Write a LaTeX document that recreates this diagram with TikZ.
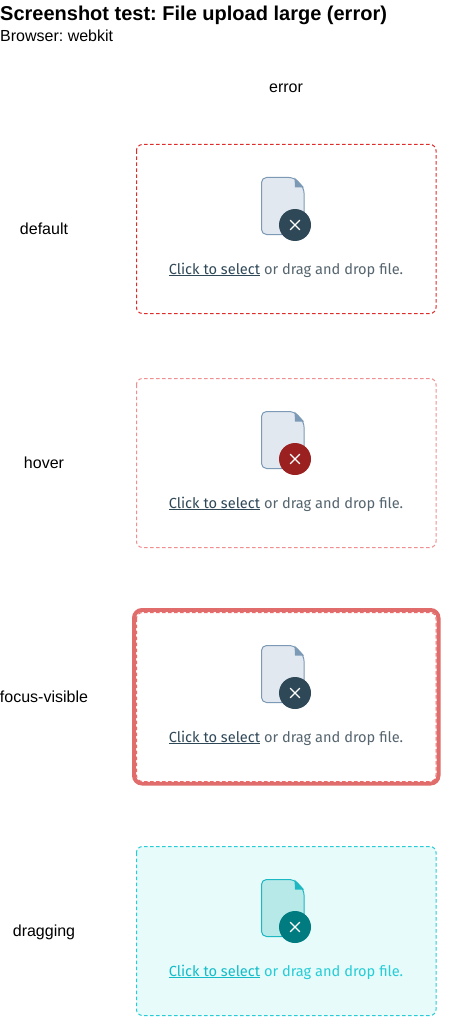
\documentclass[tikz,border=0pt]{standalone}
\usepackage{fontspec}
\setmainfont{Liberation Sans}
\newfontfamily\uifont{Fira Sans}
\frenchspacing
\tikzset{
  x=1pt,y=-1pt,
  caption/.style={inner sep=0pt,font=\fontsize{16}{18}\selectfont,text=black},
  msg/.style={inner sep=0pt,font=\uifont\fontsize{14.6}{17}\selectfont},
}
\newcommand{\linkcol}{black}
\newcommand{\uploadbox}[9]{%
 % #1 name, #2 y offset, #3 border colour, #4 fill, #5 sheet fill, #6 sheet line, #7 fold, #8 badge, #9 text colour
 \begin{scope}[yshift=-#2 pt]
  \fill[#4,rounded corners=6] (136.5,144.5) rectangle (436,313.5);
  \draw[#3,line width=1,dash pattern=on 3.5pt off 2.5pt,rounded corners=6] (136.5,144.5) rectangle (436,313.5);
  \draw[#6,fill=#5,line width=1,rounded corners=5] (261.5,177.5) -- (294,177.5) -- (304,188) -- (304,234.5) -- (261.5,234.5) -- cycle;
  \fill[#7] (294.5,177.5) -- (304,187.5) -- (295,187.5) -- cycle;
  \node[circle,fill=#8,minimum size=32,inner sep=0pt] (#1badge) at (295,225) {};
  \draw[white,line width=1.3,line cap=round] (290.3,220.3) -- (299.7,229.7) (299.7,220.3) -- (290.3,229.7);
  \node[msg,text=#9,anchor=base] (#1msg) at (286,274) {\textcolor{\linkcol}{\underline{Click to select}} or drag and drop file.};
 \end{scope}}
\begin{document}
\begin{tikzpicture}
\useasboundingbox (0,0) rectangle (453,1032);
\fill[white] (0,0) rectangle (453,1032);
\node[inner sep=0pt,anchor=base west,font=\bfseries\fontsize{20}{22}\selectfont] (title) at (0,21) {Screenshot test: File upload large (error)};
\node[inner sep=0pt,anchor=base west,font=\fontsize{16}{18}\selectfont] (browser) at (0,42) {Browser: webkit};
\node[caption,anchor=base] (coltitle) at (286,93) {error};
\node[caption,anchor=base] (ldefault) at (44,234) {default};
\node[caption,anchor=base] (lhover) at (44,468) {hover};
\node[caption,anchor=base] (lfocus) at (44,702) {focus-visible};
\node[caption,anchor=base] (ldrag) at (44,936) {dragging};
\definecolor{errA}{HTML}{E02B2B}
\definecolor{errB}{HTML}{EF8F8F}
\definecolor{errC}{HTML}{E06C6C}
\definecolor{sheet}{HTML}{E2E8F0}
\definecolor{sheetline}{HTML}{7C9AB5}
\definecolor{dark}{HTML}{2F4858}
\definecolor{redb}{HTML}{9B2020}
\definecolor{msgc}{HTML}{55656F}
\definecolor{dragb}{HTML}{26CCD6}
\definecolor{dragf}{HTML}{E6FBFA}
\definecolor{drags}{HTML}{B8E9E9}
\definecolor{dragl}{HTML}{1DB8C2}
\definecolor{dragd}{HTML}{007C80}
\definecolor{dragt}{HTML}{12BCC8}
\renewcommand{\linkcol}{dark}
\uploadbox{a}{0}{errA}{white}{sheet}{sheetline}{sheetline}{dark}{msgc}
\uploadbox{b}{234}{errB}{white}{sheet}{sheetline}{sheetline}{redb}{msgc}
\draw[errC,line width=4,rounded corners=8] (134,610) rectangle (438.5,783.5);
\uploadbox{c}{468}{errA!70!white}{white}{sheet}{sheetline}{sheetline}{dark}{msgc}
\renewcommand{\linkcol}{dragt}
\uploadbox{d}{702}{dragb}{dragf}{drags}{dragl}{dragl}{dragd}{dragb}
\end{tikzpicture}
\end{document}
